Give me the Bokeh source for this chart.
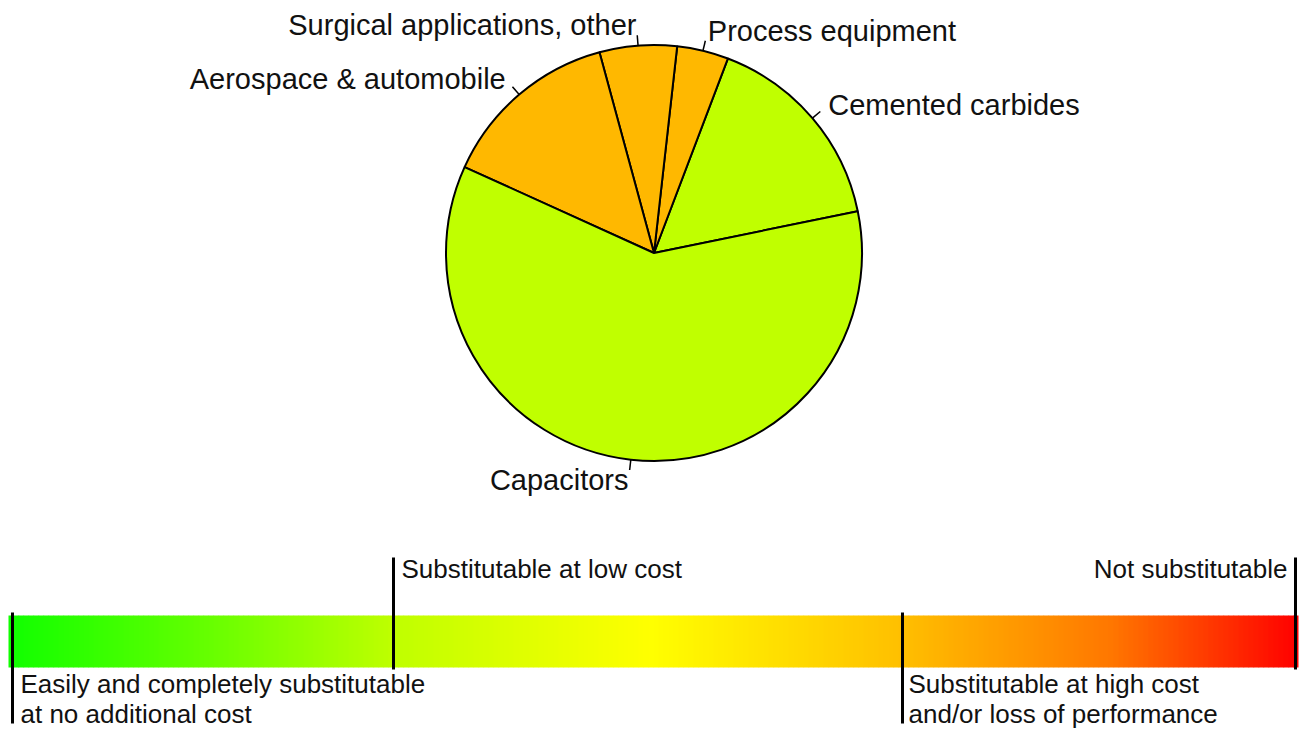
import math
from bokeh.plotting import figure
from bokeh.models import Range1d, ColumnDataSource
from bokeh.embed import file_html
from bokeh.resources import INLINE
from bokeh.core.properties import value

# ---- data ----
categories = ["Cemented carbides", "Process equipment", "Surgical applications, other",
              "Aerospace & automobile", "Capacitors"]
shares = [16, 4, 6, 14, 60]
slice_colors = ["#C0FF00", "#FFB800", "#FFB800", "#FFB800", "#C0FF00"]

scale_labels_top = ["Substitutable at low cost", "Not substitutable"]
scale_labels_bottom = [["Easily and completely substitutable", "at no additional cost"],
                       ["Substitutable at high cost", "and/or loss of performance"]]

# gradient colour stops (style): position in px, colour
grad_pos = [8, 208, 393, 650, 902, 1110, 1298]
grad_col = [(0x10, 0xFF, 0x00), (0x66, 0xFF, 0x00), (0xBF, 0xFF, 0x00), (0xFF, 0xFF, 0x00),
            (0xFF, 0xBF, 0x00), (0xFF, 0x77, 0x00), (0xFF, 0x00, 0x00)]

W, H = 1303, 731
FONT = value("Liberation Sans")

p = figure(width=W, height=H, output_backend="svg", toolbar_location=None,
           x_range=Range1d(0, W), y_range=Range1d(0, H), min_border=0)
p.axis.visible = False
p.grid.visible = False
p.outline_line_color = None

# ---- pie ----
cx, cy, R = 653.5, 478.5, 208
start0 = math.radians(11.6)
total = sum(shares)
starts, ends, mids = [], [], []
a = start0
for s in shares:
    b = a + 2 * math.pi * s / total
    starts.append(a)
    ends.append(b)
    mids.append((a + b) / 2)
    a = b

src = ColumnDataSource(dict(x=[cx] * len(shares), y=[cy] * len(shares), start=starts, end=ends,
                            color=slice_colors))
p.wedge(x="x", y="y", radius=R, start_angle="start", end_angle="end", fill_color="color",
        line_color="black", line_width=2, source=src)

x0s = [cx + R * math.cos(m) for m in mids]
y0s = [cy + R * math.sin(m) for m in mids]
x1s = [cx + 1.05 * R * math.cos(m) for m in mids]
y1s = [cy + 1.05 * R * math.sin(m) for m in mids]
p.segment(x0=x0s, y0=y0s, x1=x1s, y1=y1s, line_color="black", line_width=1.5)

for cat, m in zip(categories, mids):
    tx = cx + 1.1 * R * math.cos(m)
    ty = cy + 1.1 * R * math.sin(m)
    p.text(x=[tx], y=[ty], text=[cat], text_font=FONT, text_font_size="29px",
           text_align="left" if math.cos(m) >= 0 else "right", text_baseline="middle",
           text_color="#111111")

# ---- gradient bar ----
def interp(x):
    for i in range(len(grad_pos) - 1):
        if grad_pos[i] <= x <= grad_pos[i + 1]:
            t = (x - grad_pos[i]) / (grad_pos[i + 1] - grad_pos[i])
            c0, c1 = grad_col[i], grad_col[i + 1]
            return "#%02X%02X%02X" % tuple(int(round(c0[k] + (c1[k] - c0[k]) * t)) for k in range(3))
    return "#%02X%02X%02X" % grad_col[-1]

step = 5
lefts = list(range(8, 1298, step))
p.quad(left=lefts, right=[min(l + step + 0.6, 1298) for l in lefts], bottom=64, top=116,
       fill_color=[interp(l + step / 2) for l in lefts], line_color=None)

# marker lines
mark_x = [12, 393, 902, 1295]
mark_bottom = [8, 62, 8, 62]
mark_top = [119, 174, 119, 174]
p.segment(x0=mark_x, y0=mark_bottom, x1=mark_x, y1=mark_top, line_color="black", line_width=3)

# scale texts
p.text(x=[401], y=[163], text=[scale_labels_top[0]], text_font=FONT, text_font_size="26px",
       text_align="left", text_baseline="alphabetic", text_color="#111111")
p.text(x=[1287], y=[163], text=[scale_labels_top[1]], text_font=FONT, text_font_size="26px",
       text_align="right", text_baseline="alphabetic", text_color="#111111")
for xl, lines in zip([20, 908], scale_labels_bottom):
    p.text(x=[xl, xl], y=[48, 18], text=lines, text_font=FONT, text_font_size="26px",
           text_align="left", text_baseline="alphabetic", text_color="#111111")

open("out.html", "w").write(file_html(p, INLINE))
